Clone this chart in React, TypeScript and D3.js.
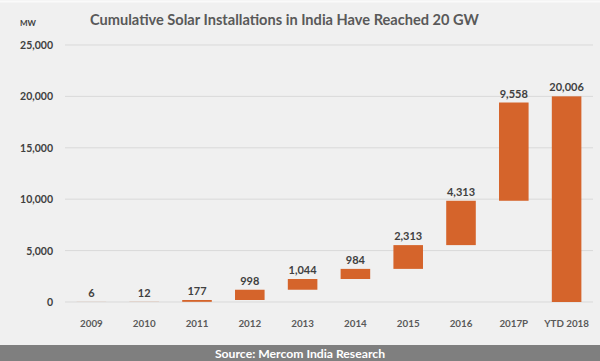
import React from "react";
import * as d3 from "d3";

const categories = ["2009", "2010", "2011", "2012", "2013", "2014", "2015", "2016", "2017P", "YTD 2018"];
const increments = [6, 12, 177, 998, 1044, 984, 2313, 4313, 9558];
const totalValue = 20006;
const yTicks = [0, 5000, 10000, 15000, 20000, 25000];

const W = 600;
const H = 361;
const margin = { left: 65, right: 7, top: 45, bottom: 59 };

export default function App() {
  const x = d3
    .scaleBand()
    .domain(categories)
    .range([margin.left, W - margin.right])
    .paddingInner(0.44)
    .paddingOuter(0.22);
  const y = d3.scaleLinear().domain([0, 25000]).range([H - margin.bottom, margin.top]);
  const fmt = d3.format(",");

  // waterfall steps
  let run = 0;
  const bars = increments.map((v, i) => {
    const b = { cat: categories[i], y0: run, y1: run + v, label: v };
    run += v;
    return b;
  });
  bars.push({ cat: categories[categories.length - 1], y0: 0, y1: totalValue, label: totalValue });

  const font = "Lato, 'Open Sans', sans-serif";

  return (
    <svg width={W} height={H} style={{ position: "absolute", left: 0, top: 0 }} fontFamily={font}>
      <rect x={0} y={0} width={W} height={H} fill="#f0f0f0" />
      <line x1={0} x2={W} y1={1.5} y2={1.5} stroke="#fafafa" strokeWidth={2} />
      <text x={20} y={26} fontSize={8} fontWeight="bold" fill="#404040">MW</text>
      <text x={90} y={25} fontSize={14.6} fontWeight="bold" fill="#595959">
        Cumulative Solar Installations in India Have Reached 20 GW
      </text>
      {yTicks.map((t) => (
        <g key={t}>
          <line x1={margin.left} x2={W - margin.right} y1={y(t)} y2={y(t)} stroke="#d9d9d9" strokeWidth={1} />
          <text x={53} y={y(t) + 4} textAnchor="end" fontSize={10.5} fontWeight="bold" fill="#404040">
            {fmt(t)}
          </text>
        </g>
      ))}
      {bars.map((b) => (
        <g key={b.cat}>
          <rect
            x={x(b.cat)}
            width={x.bandwidth()}
            y={y(b.y1)}
            height={Math.max(0, y(b.y0) - y(b.y1))}
            fill="#d5642b"
          />
          <text
            x={(x(b.cat) as number) + x.bandwidth() / 2}
            y={y(b.y1) - 5}
            textAnchor="middle"
            fontSize={11}
            fontWeight="bold"
            fill="#404040"
          >
            {fmt(b.label)}
          </text>
        </g>
      ))}
      {categories.map((c) => (
        <text
          key={c}
          x={(x(c) as number) + x.bandwidth() / 2}
          y={327}
          textAnchor="middle"
          fontSize={9.8}
          fontWeight="bold"
          fill="#595959"
        >
          {c}
        </text>
      ))}
      <rect x={0} y={345} width={W} height={H - 345} fill="#7f7f7f" />
      <text x={W / 2} y={357.5} textAnchor="middle" fontSize={12.2} fontWeight="bold" fill="#ffffff">
        Source: Mercom India Research
      </text>
    </svg>
  );
}
